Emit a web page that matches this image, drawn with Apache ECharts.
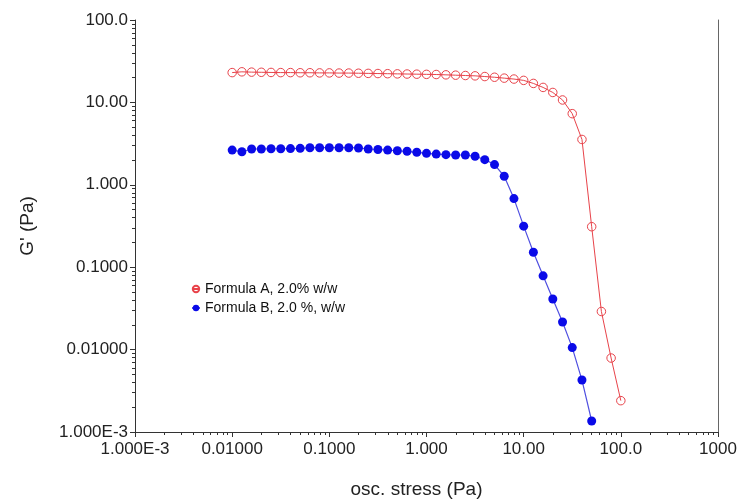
<!DOCTYPE html>
<html>
<head>
<meta charset="utf-8">
<script src="https://cdn.jsdelivr.net/npm/echarts@6/dist/echarts.min.js"></script>
<style>
html,body{margin:0;padding:0;background:#fff;}
#chart{width:742px;height:504px;}
</style>
</head>
<body>
<div id="chart"></div>
<script>
// osc. stress (Pa), 10 points per decade
var stress = [0.01, 0.01259, 0.01585, 0.01995, 0.02512, 0.03162, 0.03981, 0.05012, 0.06310, 0.07943,
  0.1, 0.1259, 0.1585, 0.1995, 0.2512, 0.3162, 0.3981, 0.5012, 0.6310, 0.7943,
  1.0, 1.259, 1.585, 1.995, 2.512, 3.162, 3.981, 5.012, 6.310, 7.943,
  10.0, 12.59, 15.85, 19.95, 25.12, 31.62, 39.81, 50.12, 63.10, 79.43, 100.0];
// G' (Pa), Formula A
var formulaA = [23.0, 23.5, 23.3, 23.2, 23.1, 23.0, 23.0, 22.9, 22.9, 22.8,
  22.8, 22.7, 22.7, 22.6, 22.5, 22.4, 22.3, 22.2, 22.1, 22.0,
  21.9, 21.8, 21.6, 21.4, 21.2, 21.0, 20.6, 20.2, 19.7, 19.2,
  18.5, 17.0, 15.2, 13.2, 10.7, 7.3, 3.55, 0.31, 0.029, 0.0079, 0.0024];
// G' (Pa), Formula B
var formulaB = [2.64, 2.52, 2.72, 2.72, 2.74, 2.74, 2.75, 2.77, 2.82, 2.82,
  2.82, 2.82, 2.82, 2.80, 2.72, 2.68, 2.64, 2.59, 2.55, 2.48,
  2.41, 2.36, 2.32, 2.30, 2.30, 2.22, 2.02, 1.76, 1.27, 0.68,
  0.315, 0.152, 0.0786, 0.0411, 0.0216, 0.01057, 0.00427, 0.00136];
var seriesNames = ['Formula A, 2.0% w/w', 'Formula B, 2.0 %, w/w'];
var xTickLabels = ['1.000E-3', '0.01000', '0.1000', '1.000', '10.00', '100.0', '1000'];
var yTickLabels = ['1.000E-3', '0.01000', '0.1000', '1.000', '10.00', '100.0'];

function pairs(xs, ys) {
  var out = [];
  for (var i = 0; i < ys.length; i++) out.push([xs[i], ys[i]]);
  return out;
}
function minorTicks(lo, hi) {
  var out = [];
  for (var e = lo; e < hi; e++) {
    for (var m = 2; m <= 9; m++) out.push(m * Math.pow(10, e));
  }
  return out;
}
var FONT = '"Liberation Sans", Arial, Helvetica, sans-serif';
var AX = '#333';

var chart = echarts.init(document.getElementById('chart'), null, {renderer: 'canvas'});
chart.setOption({
  animation: false,
  backgroundColor: '#fff',
  textStyle: {fontFamily: FONT},
  grid: {left: 135, right: 24, top: 20, bottom: 66, containLabel: false},
  legend: {
    orient: 'vertical', left: 186, top: 277, itemWidth: 8, itemHeight: 8, itemGap: 5,
    textStyle: {fontFamily: FONT, fontSize: 14, color: '#111'},
    data: seriesNames
  },
  xAxis: [{
    type: 'log', logBase: 10, min: 0.001, max: 1000, splitNumber: 6,
    name: 'osc. stress (Pa)', nameLocation: 'middle', nameGap: 48,
    nameTextStyle: {fontFamily: FONT, fontSize: 19, color: '#222', padding: [0, 20, 0, 0]},
    axisLine: {show: true, onZero: false, lineStyle: {color: AX, width: 1}},
    axisTick: {show: true, inside: false, length: 5, lineStyle: {color: AX}},
    splitLine: {show: false},
    axisLabel: {fontFamily: FONT, fontSize: 17, color: '#222', margin: 9,
      formatter: function (v) { return xTickLabels[Math.round(Math.log10(v)) + 3]; }}
  }, {
    type: 'log', logBase: 10, min: 0.001, max: 1000, position: 'bottom',
    axisLine: {show: false}, splitLine: {show: false},
    axisLabel: {show: false},
    axisTick: {show: true, length: 3, lineStyle: {color: AX}, customValues: minorTicks(-3, 3)}
  }],
  yAxis: [{
    type: 'log', logBase: 10, min: 0.001, max: 100, splitNumber: 5,
    name: "G' (Pa)", nameLocation: 'middle', nameGap: 98, nameRotate: 90,
    nameTextStyle: {fontFamily: FONT, fontSize: 19, color: '#222'},
    axisLine: {show: true, onZero: false, lineStyle: {color: AX, width: 1}},
    axisTick: {show: true, inside: false, length: 5, lineStyle: {color: AX}},
    splitLine: {show: false},
    axisLabel: {fontFamily: FONT, fontSize: 17, color: '#222', margin: 7,
      formatter: function (v) { return yTickLabels[Math.round(Math.log10(v)) + 3]; }}
  }, {
    type: 'log', logBase: 10, min: 0.001, max: 100, position: 'right',
    axisLine: {show: true, onZero: false, lineStyle: {color: '#666', width: 1}},
    axisTick: {show: false}, axisLabel: {show: false}, splitLine: {show: false}
  }, {
    type: 'log', logBase: 10, min: 0.001, max: 100, position: 'left',
    axisLine: {show: false}, splitLine: {show: false}, axisLabel: {show: false},
    axisTick: {show: true, length: 3, lineStyle: {color: AX}, customValues: minorTicks(-3, 2)}
  }],
  series: [{
    name: seriesNames[0], type: 'line', xAxisIndex: 0, yAxisIndex: 0,
    data: pairs(stress, formulaA),
    symbol: 'circle', symbolSize: 8.5, showAllSymbol: true,
    lineStyle: {color: '#e8434a', width: 1},
    itemStyle: {color: 'rgba(255,255,255,0)', borderColor: '#e8434a', borderWidth: 1}
  }, {
    name: seriesNames[1], type: 'line', xAxisIndex: 0, yAxisIndex: 0,
    data: pairs(stress, formulaB),
    symbol: 'circle', symbolSize: 9, showAllSymbol: true,
    lineStyle: {color: '#5050e0', width: 1.2},
    itemStyle: {color: '#0a0ae8', borderWidth: 0}
  }]
});
</script>
</body>
</html>
